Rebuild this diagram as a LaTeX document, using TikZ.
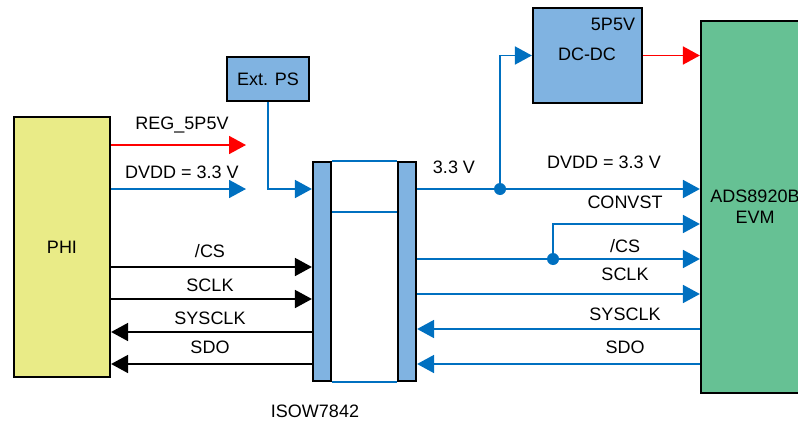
\documentclass[tikz,border=0pt]{standalone}
\usepackage{fontspec}
\setmainfont{Liberation Sans}
\usetikzlibrary{arrows.meta}
\definecolor{lblue}{HTML}{0070C0}
\definecolor{boxblue}{HTML}{80B3E1}
\definecolor{phiyel}{HTML}{E9EB87}
\definecolor{adsgreen}{HTML}{66C194}
\definecolor{sigred}{HTML}{FF0000}
\begin{document}
\begin{tikzpicture}[x=1pt,y=-1pt,
  every node/.style={font=\fontsize{18}{21}\selectfont},
  blockbox/.style={draw=black, line width=2.2pt, inner sep=0pt},
  lbl/.style={inner sep=0pt, text height=12.9pt, text depth=0pt},
  ln/.style={line width=1.8pt},
  arr/.style={-{Triangle[length=17pt,width=18pt]}},
  bluesig/.style={ln, draw=lblue, arr},
  blacksig/.style={ln, draw=black, arr},
  redsig/.style={ln, draw=sigred, arr}]
\clip (0,0) rectangle (798,423);
% blocks
\node[blockbox, fill=phiyel, minimum width=96pt, minimum height=260pt] (phi) at (62,247) {};
\node[lbl] (philbl) at (62,247) {PHI};
\node[blockbox, fill=boxblue, minimum width=82pt, minimum height=44pt] (extps) at (268,79) {};
\node[lbl] (extlbl) at (268,79) {Ext. PS};
\node[blockbox, fill=boxblue, minimum width=18pt, minimum height=219pt] (isoL) at (322,271.5) {};
\node[blockbox, fill=boxblue, minimum width=18pt, minimum height=219pt] (isoR) at (407,271.5) {};
\node[lbl] (isolbl) at (315,411) {ISOW7842};
\node[blockbox, fill=boxblue, minimum width=109pt, minimum height=95pt] (dcdc) at (587.5,55.5) {};
\node[lbl] (dclbl) at (587,54) {DC-DC};
\node[lbl] (p5lbl) at (613,24) {5P5V};
\node[blockbox, fill=adsgreen, minimum width=112pt, minimum height=372pt] (ads) at (757,207) {};
\node[lbl] (adsl1) at (755,196) {ADS8920B};
\node[lbl] (adsl2) at (755,217) {EVM};
% isolator inner lines
\draw[ln, lblue] (isoL.north east) -- (isoR.north west);
\draw[ln, lblue] ([yshift=-51pt]isoL.north east) -- ([yshift=-51pt]isoR.north west);
\draw[ln, lblue] (isoL.south east) -- (isoR.south west);
% left power
\coordinate (regend) at (246,145);
\coordinate (dvddend) at (246,189);
\draw[redsig] (phi.east |- regend) -- (regend);
\draw[bluesig] (phi.east |- dvddend) -- (dvddend);
\node[lbl] (reglbl) at (182,123) {REG\_5P5V};
\node[lbl] (dvddl) at (182,172) {DVDD = 3.3 V};
\draw[bluesig] (extps.south) |- (isoL.west |- dvddend);
% left signals
\coordinate (ycs) at (0,267);
\coordinate (ysclk) at (0,299);
\coordinate (ysys) at (0,332);
\coordinate (ysdo) at (0,364);
\draw[blacksig] (phi.east |- ycs) -- (isoL.west |- ycs);
\draw[blacksig] (phi.east |- ysclk) -- (isoL.west |- ysclk);
\draw[blacksig] (isoL.west |- ysys) -- (phi.east |- ysys);
\draw[blacksig] (isoL.west |- ysdo) -- (phi.east |- ysdo);
\node[lbl] (cslbl) at (210,251) {/CS};
\node[lbl] (sclklbl) at (210,285) {SCLK};
\node[lbl] (syslbl) at (210,318) {SYSCLK};
\node[lbl] (sdolbl) at (210,347) {SDO};
% right side
\coordinate (j1) at (500,189);
\coordinate (j2) at (553,259);
\draw[bluesig] (isoR.east |- j1) -- (ads.west |- j1);
\draw[bluesig] (j1) |- (dcdc.west);
\draw[redsig] (dcdc.east) -- (ads.west |- dcdc.east);
\fill[lblue] (j1) circle (6pt);
\coordinate (yconv) at (0,224);
\coordinate (rsclk) at (0,294);
\coordinate (rsys) at (0,329);
\coordinate (rsdo) at (0,364);
\draw[bluesig] (isoR.east |- j2) -- (ads.west |- j2);
\draw[bluesig] (j2) |- (ads.west |- yconv);
\fill[lblue] (j2) circle (6pt);
\draw[bluesig] (isoR.east |- rsclk) -- (ads.west |- rsclk);
\draw[bluesig] (ads.west |- rsys) -- (isoR.east |- rsys);
\draw[bluesig] (ads.west |- rsdo) -- (isoR.east |- rsdo);
\node[lbl] (v33) at (454,167) {3.3 V};
\node[lbl] (rdvdd) at (604,162) {DVDD = 3.3 V};
\node[lbl] (convl) at (625,202) {CONVST};
\node[lbl] (rcs) at (625,246) {/CS};
\node[lbl] (rsclkl) at (625,274) {SCLK};
\node[lbl] (rsysl) at (625,314) {SYSCLK};
\node[lbl] (rsdol) at (625,347) {SDO};
\end{tikzpicture}
\end{document}
